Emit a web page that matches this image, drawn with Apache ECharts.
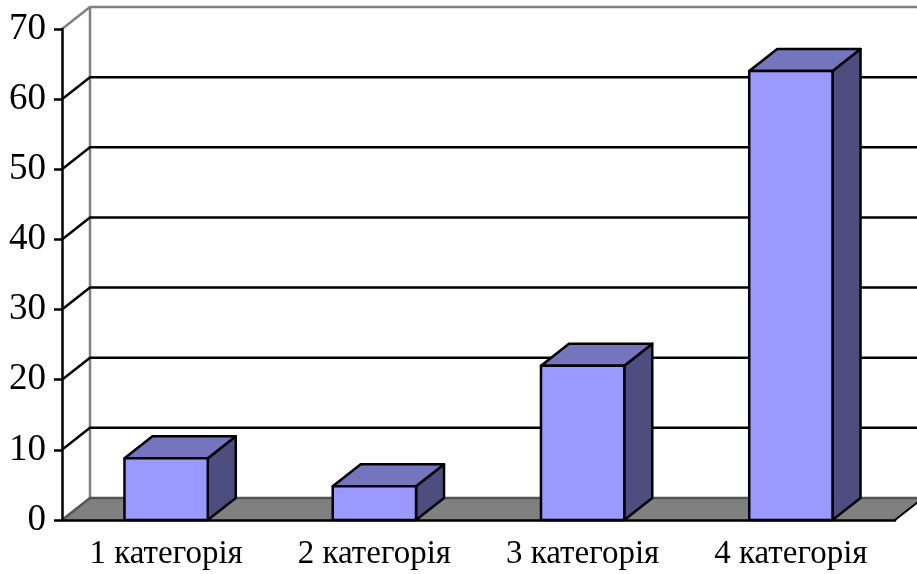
<!DOCTYPE html>
<html>
<head>
<meta charset="utf-8">
<script src="https://cdn.jsdelivr.net/npm/echarts@6/dist/echarts.min.js"></script>
<style>
  html, body { margin: 0; padding: 0; background: #fff; }
  #chart { width: 917px; height: 574px; }
</style>
</head>
<body>
<div id="chart"></div>
<script>
const categories = ["1 категорія", "2 категорія", "3 категорія", "4 категорія"];
const values = [8.8, 4.8, 22, 64];
const yTicks = [0, 10, 20, 30, 40, 50, 60, 70];

// depth offset of the 3D walls and bars
const DX = 28;
const DY = -22;

let chart = echarts.init(document.getElementById("chart"));

function renderWall(params, api) {
  let cs = params.coordSys;
  let v = yTicks[params.dataIndex];
  let y = api.coord([0, v])[1];
  let x0 = cs.x;
  let x1 = cs.x + cs.width;
  let children = [];
  if (v === 0) {
    // floor
    children.push({
      type: "polygon",
      shape: { points: [[x0, y], [x0 + DX, y + DY], [x1 + DX, y + DY], [x1, y]] },
      style: { fill: "#808080", stroke: null }
    });
    children.push({
      type: "line",
      shape: { x1: x1, y1: y, x2: x1 + DX, y2: y + DY },
      style: { stroke: "#000", lineWidth: 2 }
    });
    // back wall left edge
    let yTop = api.coord([0, yTicks[yTicks.length - 1]])[1];
    children.push({
      type: "line",
      shape: { x1: x0 + DX, y1: y + DY, x2: x0 + DX, y2: yTop + DY },
      style: { stroke: "#808080", lineWidth: 2.5 }
    });
  }
  let last = v === yTicks[yTicks.length - 1];
  children.push({
    type: "polyline",
    shape: { points: [[x0, y], [x0 + DX, y + DY], [x1 + DX + 20, y + DY]] },
    style: { stroke: last ? "#808080" : (v === 0 ? "#555" : "#000"), lineWidth: 2.5, fill: null }
  });
  return { type: "group", children: children };
}

function renderBar(params, api) {
  let top = api.coord([api.value(0), api.value(1)]);
  let base = api.coord([api.value(0), 0]);
  let w = api.size([1, 0])[0] * 0.4;
  let xl = top[0] - w / 2;
  let xr = top[0] + w / 2;
  let yt = top[1];
  let yb = base[1];
  let line = { stroke: "#000", lineWidth: 2.5, lineJoin: "round" };
  return {
    type: "group",
    children: [
      {
        type: "polygon",
        shape: { points: [[xr, yt], [xr + DX, yt + DY], [xr + DX, yb + DY], [xr, yb]] },
        style: Object.assign({ fill: "#4d4d80" }, line)
      },
      {
        type: "polygon",
        shape: { points: [[xl, yt], [xl + DX, yt + DY], [xr + DX, yt + DY], [xr, yt]] },
        style: Object.assign({ fill: "#7474bf" }, line)
      },
      {
        type: "rect",
        shape: { x: xl, y: yt, width: w, height: yb - yt },
        style: Object.assign({ fill: "#9999ff" }, line)
      }
    ]
  };
}

chart.setOption({
  animation: false,
  grid: { left: 62, right: 22, top: 29, bottom: 54 },
  xAxis: {
    type: "category",
    data: categories,
    z: 10,
    axisLine: { lineStyle: { color: "#000", width: 2.5 } },
    axisTick: { length: 9, lineStyle: { color: "#000", width: 2.5 } },
    axisLabel: {
      fontFamily: "Liberation Serif",
      fontSize: 33,
      color: "#000",
      margin: 18
    }
  },
  yAxis: {
    type: "value",
    min: 0,
    max: 70,
    interval: 10,
    z: 10,
    axisLine: { show: true, lineStyle: { color: "#000", width: 2.5 } },
    axisTick: { show: true, length: 8, lineStyle: { color: "#000", width: 2.5 } },
    splitLine: { show: false },
    axisLabel: {
      fontFamily: "Liberation Serif",
      fontSize: 37,
      color: "#000",
      margin: 16
    }
  },
  series: [
    {
      type: "custom",
      name: "wall",
      renderItem: renderWall,
      data: yTicks.map(v => [0, v]),
      clip: false,
      silent: true,
      z: 1
    },
    {
      type: "custom",
      name: "bars",
      renderItem: renderBar,
      data: values.map((v, i) => [i, v]),
      clip: false,
      z: 2
    }
  ]
});
</script>
</body>
</html>
